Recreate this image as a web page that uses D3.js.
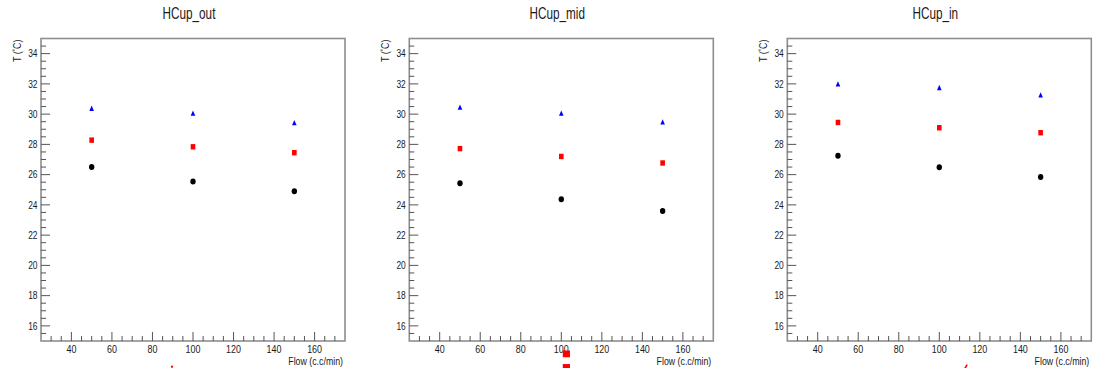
<!DOCTYPE html>
<html>
<head>
<meta charset="utf-8">
<script src="https://cdn.jsdelivr.net/npm/d3@7"></script>
<style>
  body { margin: 0; background: #fff; }
  text { font-family: "Liberation Sans", Arial, sans-serif; fill: #1a1a1a; }
</style>
</head>
<body>
<svg id="chart" width="1096" height="368"></svg>
<script>
// panels (one per heater cup position)
const panelNames = ["HCup_out", "HCup_mid", "HCup_in"];
const flows = [50, 100, 150];

// temperatures, one array per series and panel
const outBlack = [26.50, 25.55, 24.90];
const outRed   = [28.28, 27.84, 27.45];
const outBlue  = [30.38, 30.05, 29.43];

const midBlack = [25.43, 24.38, 23.60];
const midRed   = [27.72, 27.20, 26.77];
const midBlue  = [30.45, 30.05, 29.48];

const inBlack  = [27.25, 26.48, 25.84];
const inRed    = [29.45, 29.10, 28.77];
const inBlue   = [31.99, 31.75, 31.26];

// stray red marks poking out below the frames
const strayPanel = [0, 1, 1, 2];
const strayFlow  = [89.6, 102.5, 102.5, 113];
const strayT     = [13.3, 14.15, 13.25, 13.3];

const xTicks = [40, 60, 80, 100, 120, 140, 160];
const yTicks = [16, 18, 20, 22, 24, 26, 28, 30, 32, 34];
const xDomain = [25, 175];
const yDomain = [15, 35];

const blackSeries = [outBlack, midBlack, inBlack];
const redSeries = [outRed, midRed, inRed];
const blueSeries = [outBlue, midBlue, inBlue];

const svg = d3.select("#chart");
const frameLefts = [41, 409.3, 787.3];
const frameW = 304;
const frameTop = 38.5, frameBottom = 341;
const axisCol = "#8e8e8e";

// text squeezed horizontally, like the original rendering
function squeezed(g, str, x, y, size, sx, anchor) {
  return g.append("text")
    .attr("transform", `translate(${x},${y}) scale(${sx},1)`)
    .attr("font-size", size)
    .attr("text-anchor", anchor)
    .text(str);
}

panelNames.forEach((name, p) => {
  const left = frameLefts[p];
  const g = svg.append("g");

  let x = d3.scaleLinear().domain(xDomain).range([left, left + frameW]);
  let y = d3.scaleLinear().domain(yDomain).range([frameBottom, frameTop]);

  // frame
  g.append("rect")
    .attr("x", left).attr("y", frameTop)
    .attr("width", frameW).attr("height", frameBottom - frameTop)
    .attr("fill", "none").attr("stroke", axisCol).attr("stroke-width", 1.6);

  // x ticks: minor every 5, major every 20
  let xMinor = d3.range(30, 175, 5);
  g.selectAll(".xt").data(xMinor).enter().append("line")
    .attr("x1", d => x(d)).attr("x2", d => x(d))
    .attr("y1", frameBottom)
    .attr("y2", d => frameBottom - (xTicks.includes(d) ? 9 : 5))
    .attr("stroke", "#555").attr("stroke-width", 1);

  xTicks.forEach(t => squeezed(g, t, x(t), 352.7, 10.5, 0.85, "middle"));

  // y ticks: minor every 0.5, major every 2
  let yMinor = d3.range(15.5, 35, 0.5);
  g.selectAll(".yt").data(yMinor).enter().append("line")
    .attr("y1", d => y(d)).attr("y2", d => y(d))
    .attr("x1", left)
    .attr("x2", d => left + (yTicks.includes(d) ? 9 : 5))
    .attr("stroke", "#555").attr("stroke-width", 1);

  yTicks.forEach(t => squeezed(g, t, left - 3.5, y(t) + 3.8, 10.5, 0.8, "end"));

  // axis titles
  squeezed(g, "Flow (c.c/min)", left + frameW - 2, 365, 11, 0.8, "end");
  let yl = g.append("text")
    .attr("transform", `translate(${left - 20},${frameTop + 1}) rotate(-90) scale(0.85,1)`)
    .attr("font-size", 10.5)
    .attr("text-anchor", "end");
  yl.append("tspan").text("T (");
  yl.append("tspan").attr("font-size", 7).attr("dy", -3.5).text("°");
  yl.append("tspan").attr("dy", 3.5).text("C)");

  // title
  squeezed(g, name, left + frameW / 2 - 4, 18.5, 17, 0.69, "middle");

  // black circles
  g.selectAll(".blk").data(blackSeries[p]).enter().append("ellipse")
    .attr("cx", (d, i) => x(flows[i])).attr("cy", d => y(d))
    .attr("rx", 2.7).attr("ry", 3).attr("fill", "#000");

  // red squares
  g.selectAll(".red").data(redSeries[p]).enter().append("rect")
    .attr("x", (d, i) => x(flows[i]) - 2.3).attr("y", d => y(d) - 2.7)
    .attr("width", 4.6).attr("height", 5.4).attr("fill", "#ff0000");

  // blue triangles
  g.selectAll(".blu").data(blueSeries[p]).enter().append("path")
    .attr("d", (d, i) => {
      let cx = x(flows[i]), cy = y(d);
      return `M${cx - 2.3},${cy + 2.5}L${cx + 2.3},${cy + 2.5}L${cx},${cy - 2.8}Z`;
    })
    .attr("fill", "#0000ff");

  // stray marks
  strayPanel.forEach((sp, k) => {
    if (sp !== p) return;
    let cx = x(strayFlow[k]), cy = y(strayT[k]);
    if (p === 1) {
      g.append("rect").attr("x", cx - 3.6).attr("y", cy - 3.4)
        .attr("width", 7.2).attr("height", 6.8).attr("fill", "#ff0000");
    } else if (p === 2) {
      g.append("line").attr("x1", cx - 1.5).attr("y1", cy + 3)
        .attr("x2", cx + 1.5).attr("y2", cy - 2)
        .attr("stroke", "#ff0000").attr("stroke-width", 1.6);
    } else {
      g.append("rect").attr("x", cx - 1).attr("y", cy - 1)
        .attr("width", 2).attr("height", 2).attr("fill", "#ff0000");
    }
  });
});
</script>
</body>
</html>
